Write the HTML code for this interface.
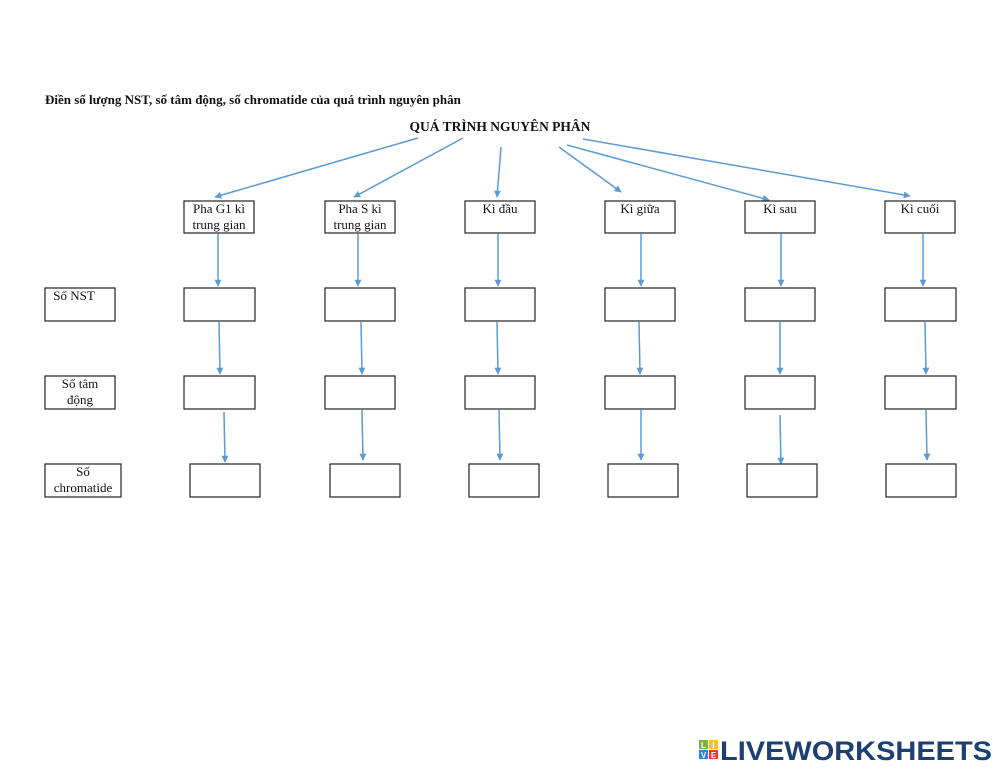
<!DOCTYPE html>
<html><head><meta charset="utf-8"><style>
html,body{margin:0;padding:0;background:#fff;}
svg{display:block}
text{font-family:"Liberation Serif",serif;font-size:13px;fill:#111}
.b{font-weight:bold}
rect.x{fill:#fff;stroke:#222;stroke-width:1.2}
line.a{stroke:#5b9bd5;stroke-width:1.5;marker-end:url(#ah)}
</style></head><body>
<svg width="1000" height="772" viewBox="0 0 1000 772">
<defs><marker id="ah" viewBox="0 0 10 10" refX="9" refY="5" markerWidth="7" markerHeight="7" orient="auto" markerUnits="userSpaceOnUse"><path d="M0,0 L10,5 L0,10 z" fill="#5b9bd5"/></marker></defs>
<text class="b" x="45" y="104">Điền số lượng NST, số tâm động, số chromatide của quá trình nguyên phân</text>
<text class="b" x="500" y="131" text-anchor="middle" style="font-size:13.5px">QUÁ TRÌNH NGUYÊN PHÂN</text>

<line class="a" x1="418" y1="138" x2="215" y2="197"/>
<line class="a" x1="463" y1="138" x2="354" y2="197"/>
<line class="a" x1="501" y1="147" x2="497" y2="197"/>
<line class="a" x1="559" y1="147" x2="621" y2="192"/>
<line class="a" x1="567" y1="145" x2="769" y2="200"/>
<line class="a" x1="583" y1="139" x2="910" y2="196"/>

<!-- top row -->
<rect class="x" x="184" y="201" width="70" height="32"/><text x="219" y="213" text-anchor="middle">Pha G1 kì</text><text x="219" y="229" text-anchor="middle">trung gian</text>
<rect class="x" x="325" y="201" width="70" height="32"/><text x="360" y="213" text-anchor="middle">Pha S kì</text><text x="360" y="229" text-anchor="middle">trung gian</text>
<rect class="x" x="465" y="201" width="70" height="32"/><text x="500" y="213" text-anchor="middle">Kì đầu</text>
<rect class="x" x="605" y="201" width="70" height="32"/><text x="640" y="213" text-anchor="middle">Kì giữa</text>
<rect class="x" x="745" y="201" width="70" height="32"/><text x="780" y="213" text-anchor="middle">Kì sau</text>
<rect class="x" x="885" y="201" width="70" height="32"/><text x="920" y="213" text-anchor="middle">Kì cuối</text>

<line class="a" x1="218" y1="234" x2="218" y2="286"/>
<line class="a" x1="358" y1="234" x2="358" y2="286"/>
<line class="a" x1="498" y1="234" x2="498" y2="286"/>
<line class="a" x1="641" y1="234" x2="641" y2="286"/>
<line class="a" x1="781" y1="234" x2="781" y2="286"/>
<line class="a" x1="923" y1="234" x2="923" y2="286"/>

<!-- NST row -->
<rect class="x" x="45" y="288" width="70" height="33"/><text x="74" y="300" text-anchor="middle">Số NST</text>
<rect class="x" x="184" y="288" width="71" height="33"/>
<rect class="x" x="325" y="288" width="70" height="33"/>
<rect class="x" x="465" y="288" width="70" height="33"/>
<rect class="x" x="605" y="288" width="70" height="33"/>
<rect class="x" x="745" y="288" width="70" height="33"/>
<rect class="x" x="885" y="288" width="71" height="33"/>

<line class="a" x1="219" y1="322" x2="220" y2="374"/>
<line class="a" x1="361" y1="322" x2="362" y2="374"/>
<line class="a" x1="497" y1="322" x2="498" y2="374"/>
<line class="a" x1="639" y1="322" x2="640" y2="374"/>
<line class="a" x1="780" y1="322" x2="780" y2="374"/>
<line class="a" x1="925" y1="322" x2="926" y2="374"/>

<!-- tam dong row -->
<rect class="x" x="45" y="376" width="70" height="33"/><text x="80" y="388" text-anchor="middle">Số tâm</text><text x="80" y="404" text-anchor="middle">động</text>
<rect class="x" x="184" y="376" width="71" height="33"/>
<rect class="x" x="325" y="376" width="70" height="33"/>
<rect class="x" x="465" y="376" width="70" height="33"/>
<rect class="x" x="605" y="376" width="70" height="33"/>
<rect class="x" x="745" y="376" width="70" height="33"/>
<rect class="x" x="885" y="376" width="71" height="33"/>

<line class="a" x1="224" y1="412" x2="225" y2="462"/>
<line class="a" x1="362" y1="410" x2="363" y2="460"/>
<line class="a" x1="499" y1="410" x2="500" y2="460"/>
<line class="a" x1="641" y1="410" x2="641" y2="460"/>
<line class="a" x1="780" y1="415" x2="781" y2="464"/>
<line class="a" x1="926" y1="410" x2="927" y2="460"/>

<!-- chromatide row -->
<rect class="x" x="45" y="464" width="76" height="33"/><text x="83" y="476" text-anchor="middle">Số</text><text x="83" y="492" text-anchor="middle">chromatide</text>
<rect class="x" x="190" y="464" width="70" height="33"/>
<rect class="x" x="330" y="464" width="70" height="33"/>
<rect class="x" x="469" y="464" width="70" height="33"/>
<rect class="x" x="608" y="464" width="70" height="33"/>
<rect class="x" x="747" y="464" width="70" height="33"/>
<rect class="x" x="886" y="464" width="70" height="33"/>

<!-- logo -->
<rect x="699" y="740" width="9" height="9" fill="#7cb342"/><text x="703.5" y="748" text-anchor="middle" style="font-family:'Liberation Sans',sans-serif;font-size:8px;fill:#fff;font-weight:bold">L</text>
<rect x="709" y="740" width="9" height="9" fill="#fbc02d"/><text x="713.5" y="748" text-anchor="middle" style="font-family:'Liberation Sans',sans-serif;font-size:8px;fill:#fff;font-weight:bold">I</text>
<rect x="699" y="750" width="9" height="9" fill="#1e88e5"/><text x="703.5" y="758" text-anchor="middle" style="font-family:'Liberation Sans',sans-serif;font-size:8px;fill:#fff;font-weight:bold">V</text>
<rect x="709" y="750" width="9" height="9" fill="#e53935"/><text x="713.5" y="758" text-anchor="middle" style="font-family:'Liberation Sans',sans-serif;font-size:8px;fill:#fff;font-weight:bold">E</text>
<text x="720" y="760" textLength="272" lengthAdjust="spacingAndGlyphs" style="font-family:'Liberation Sans',sans-serif;font-size:27px;font-weight:bold;fill:#1d3f72">LIVEWORKSHEETS</text>
</svg>
</body></html>
